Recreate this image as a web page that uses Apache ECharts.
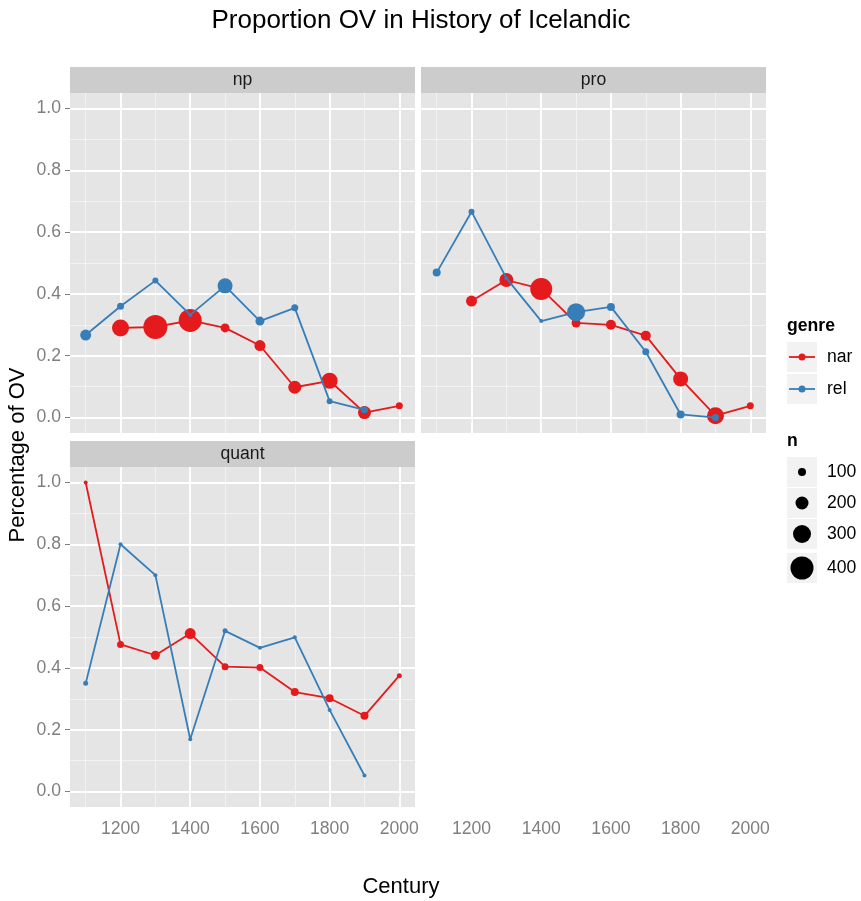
<!DOCTYPE html>
<html><head><meta charset="utf-8">
<script src="https://cdn.jsdelivr.net/npm/echarts@6/dist/echarts.min.js"></script>
<style>html,body{margin:0;padding:0;background:#fff}#c{width:861px;height:901px}</style>
</head><body><div id="c"></div>
<script>
// ---- data ----
const facets = ['np', 'pro', 'quant'];
const genres = ['nar', 'rel'];
const xTicks = [1200, 1400, 1600, 1800, 2000];
const xMinor = [1100, 1300, 1500, 1700, 1900];
const yTicks = [0, 0.2, 0.4, 0.6, 0.8, 1.0];
const yMinor = [0.1, 0.3, 0.5, 0.7, 0.9];
const sizeBreaks = [100, 200, 300, 400];

const npNarCentury = [1200, 1300, 1400, 1500, 1600, 1700, 1800, 1900, 2000];
const npNarProp    = [0.290, 0.293, 0.314, 0.290, 0.233, 0.098, 0.119, 0.016, 0.038];
const npNarN       = [280, 420, 400, 120, 160, 200, 260, 200, 80];
const npRelCentury = [1100, 1200, 1300, 1400, 1500, 1600, 1700, 1800, 1900];
const npRelProp    = [0.267, 0.360, 0.443, 0.332, 0.426, 0.312, 0.355, 0.053, 0.025];
const npRelN       = [160, 80, 60, 20, 240, 120, 80, 60, 80];

const proNarCentury = [1200, 1300, 1400, 1500, 1600, 1700, 1800, 1900, 2000];
const proNarProp    = [0.377, 0.445, 0.416, 0.306, 0.300, 0.265, 0.125, 0.006, 0.038];
const proNarN       = [160, 220, 380, 120, 140, 140, 240, 280, 80];
const proRelCentury = [1100, 1200, 1300, 1400, 1500, 1600, 1700, 1800, 1900];
const proRelProp    = [0.469, 0.666, 0.451, 0.312, 0.341, 0.358, 0.213, 0.010, 0.000];
const proRelN       = [100, 60, 20, 20, 300, 100, 80, 100, 80];

const quantNarCentury = [1100, 1200, 1300, 1400, 1500, 1600, 1700, 1800, 1900, 2000];
const quantNarProp    = [1.000, 0.476, 0.441, 0.511, 0.404, 0.401, 0.322, 0.302, 0.245, 0.375];
const quantNarN       = [20, 80, 120, 160, 80, 80, 100, 100, 100, 40];
const quantRelCentury = [1100, 1200, 1300, 1400, 1500, 1600, 1700, 1800, 1900];
const quantRelProp    = [0.350, 0.800, 0.700, 0.169, 0.520, 0.465, 0.499, 0.264, 0.052];
const quantRelN       = [40, 20, 20, 20, 40, 20, 20, 20, 20];

// ---- styling / layout ----
const FONT = '"Liberation Sans", Arial, Helvetica, sans-serif';
const RED = '#E41A1C', BLUE = '#377EB8';
const genreColors = { nar: RED, rel: BLUE };
const sizeOf = n => 3 + n / 20;

const seriesData = {
  np:    { nar: [npNarCentury, npNarProp, npNarN],       rel: [npRelCentury, npRelProp, npRelN] },
  pro:   { nar: [proNarCentury, proNarProp, proNarN],    rel: [proRelCentury, proRelProp, proRelN] },
  quant: { nar: [quantNarCentury, quantNarProp, quantNarN], rel: [quantRelCentury, quantRelProp, quantRelN] }
};

const panels = [
  { left: 70,  top: 93,  width: 345, height: 340, xLab: false, yLab: true,  xOffset: 0 },
  { left: 421, top: 93,  width: 345, height: 340, xLab: true,  yLab: false, xOffset: 374 },
  { left: 70,  top: 467, width: 345, height: 340, xLab: true,  yLab: true,  xOffset: 0 }
];
const STRIP_H = 26;

const grid = [], xAxis = [], yAxis = [], series = [], graphics = [];
panels.forEach((p, i) => {
  grid.push({ left: p.left, top: p.top, width: p.width, height: p.height, show: true,
    backgroundColor: '#E5E5E5', borderWidth: 0, containLabel: false });
  xAxis.push({ type: 'value', gridIndex: i, min: 1055, max: 2045, offset: p.xOffset,
    axisLine: { show: false }, splitLine: { show: false },
    axisTick: { show: p.xLab, customValues: xTicks, length: 5, lineStyle: { color: '#7F7F7F', width: 1 } },
    axisLabel: { show: p.xLab, customValues: xTicks, color: '#7F7F7F', fontSize: 17.6, fontFamily: FONT, margin: 13,
      formatter: v => String(v) } });
  yAxis.push({ type: 'value', gridIndex: i, min: -0.05, max: 1.05,
    axisLine: { show: false }, splitLine: { show: false },
    axisTick: { show: p.yLab, customValues: yTicks, length: 5, lineStyle: { color: '#7F7F7F', width: 1 } },
    axisLabel: { show: p.yLab, customValues: yTicks, color: '#7F7F7F', fontSize: 17.6, fontFamily: FONT, margin: 9,
      formatter: v => Number(v).toFixed(1) } });
  // gridlines through axis scales
  const minor = { color: '#F2F2F2', width: 1, type: 'solid' };
  const major = { color: '#FFFFFF', width: 1.8, type: 'solid' };
  series.push({ type: 'line', xAxisIndex: i, yAxisIndex: i, data: [], z: 1, silent: true,
    symbol: 'none', animation: false,
    markLine: { z: 1, silent: true, symbol: ['none', 'none'], label: { show: false }, animation: false,
      emphasis: { disabled: true },
      data: [
        ...yMinor.map(v => ({ yAxis: v, lineStyle: minor })),
        ...xMinor.map(v => ({ xAxis: v, lineStyle: minor })),
        ...yTicks.map(v => ({ yAxis: v, lineStyle: major })),
        ...xTicks.map(v => ({ xAxis: v, lineStyle: major }))
      ] } });
  genres.forEach((g, gi) => {
    const [cx, py, nn] = seriesData[facets[i]][g];
    series.push({ type: 'line', name: g, xAxisIndex: i, yAxisIndex: i, z: 3 + gi,
      data: cx.map((c, k) => [c, py[k], nn[k]]),
      symbol: 'circle', symbolSize: v => sizeOf(v[2]), showSymbol: true, showAllSymbol: true,
      lineStyle: { color: genreColors[g], width: 1.8 }, itemStyle: { color: genreColors[g], borderWidth: 0 },
      emphasis: { disabled: true }, animation: false, clip: false });
  });
  // strip
  graphics.push({ type: 'rect', shape: { x: p.left, y: p.top - STRIP_H, width: p.width, height: STRIP_H },
    style: { fill: '#CCCCCC' } });
  graphics.push({ type: 'text', x: p.left + p.width / 2, y: p.top - STRIP_H / 2,
    style: { text: facets[i], fill: '#1A1A1A', font: '17.6px ' + FONT, align: 'center', verticalAlign: 'middle' } });
});

// axis titles
graphics.push({ type: 'text', x: 401, y: 887,
  style: { text: 'Century', fill: '#000', font: '22px ' + FONT, align: 'center', verticalAlign: 'middle' } });
graphics.push({ type: 'text', x: 18, y: 455, rotation: Math.PI / 2,
  style: { text: 'Percentage of OV', fill: '#000', font: '22px ' + FONT, align: 'center', verticalAlign: 'middle' } });

// legend: genre
const LX = 787, KEY = 30;
graphics.push({ type: 'text', x: LX, y: 326,
  style: { text: 'genre', fill: '#000', font: 'bold 17.6px ' + FONT, align: 'left', verticalAlign: 'middle' } });
const genreY = [357, 389];
genres.forEach((g, gi) => {
  const cy = genreY[gi];
  graphics.push({ type: 'rect', shape: { x: LX, y: cy - KEY / 2, width: KEY, height: KEY }, style: { fill: '#F2F2F2' } });
  graphics.push({ type: 'line', shape: { x1: LX + 2, y1: cy, x2: LX + KEY - 2, y2: cy },
    style: { stroke: genreColors[g], lineWidth: 1.8 } });
  graphics.push({ type: 'circle', shape: { cx: LX + KEY / 2, cy: cy, r: 3.5 }, style: { fill: genreColors[g] } });
  graphics.push({ type: 'text', x: 827, y: cy,
    style: { text: g, fill: '#000', font: '17.6px ' + FONT, align: 'left', verticalAlign: 'middle' } });
});
// legend: n
graphics.push({ type: 'text', x: LX, y: 441,
  style: { text: 'n', fill: '#000', font: 'bold 17.6px ' + FONT, align: 'left', verticalAlign: 'middle' } });
const nY = [472, 503, 534, 568];
sizeBreaks.forEach((b, bi) => {
  const cy = nY[bi];
  const h = Math.max(KEY, sizeOf(b) + 6);
  graphics.push({ type: 'rect', shape: { x: LX, y: cy - h / 2, width: KEY, height: h }, style: { fill: '#F2F2F2' } });
  graphics.push({ type: 'circle', shape: { cx: LX + KEY / 2, cy: cy, r: sizeOf(b) / 2 }, style: { fill: '#000' } });
  graphics.push({ type: 'text', x: 827, y: cy,
    style: { text: String(b), fill: '#000', font: '17.6px ' + FONT, align: 'left', verticalAlign: 'middle' } });
});

const chart = echarts.init(document.getElementById('c'), null, { renderer: 'canvas' });
chart.setOption({
  backgroundColor: '#fff',
  animation: false,
  title: { text: 'Proportion OV in History of Icelandic', left: 416, top: 3, textAlign: 'center',
    textStyle: { fontSize: 26, fontWeight: 'normal', color: '#000', fontFamily: FONT } },
  grid, xAxis, yAxis, series,
  graphic: { elements: graphics }
});
</script></body></html>
